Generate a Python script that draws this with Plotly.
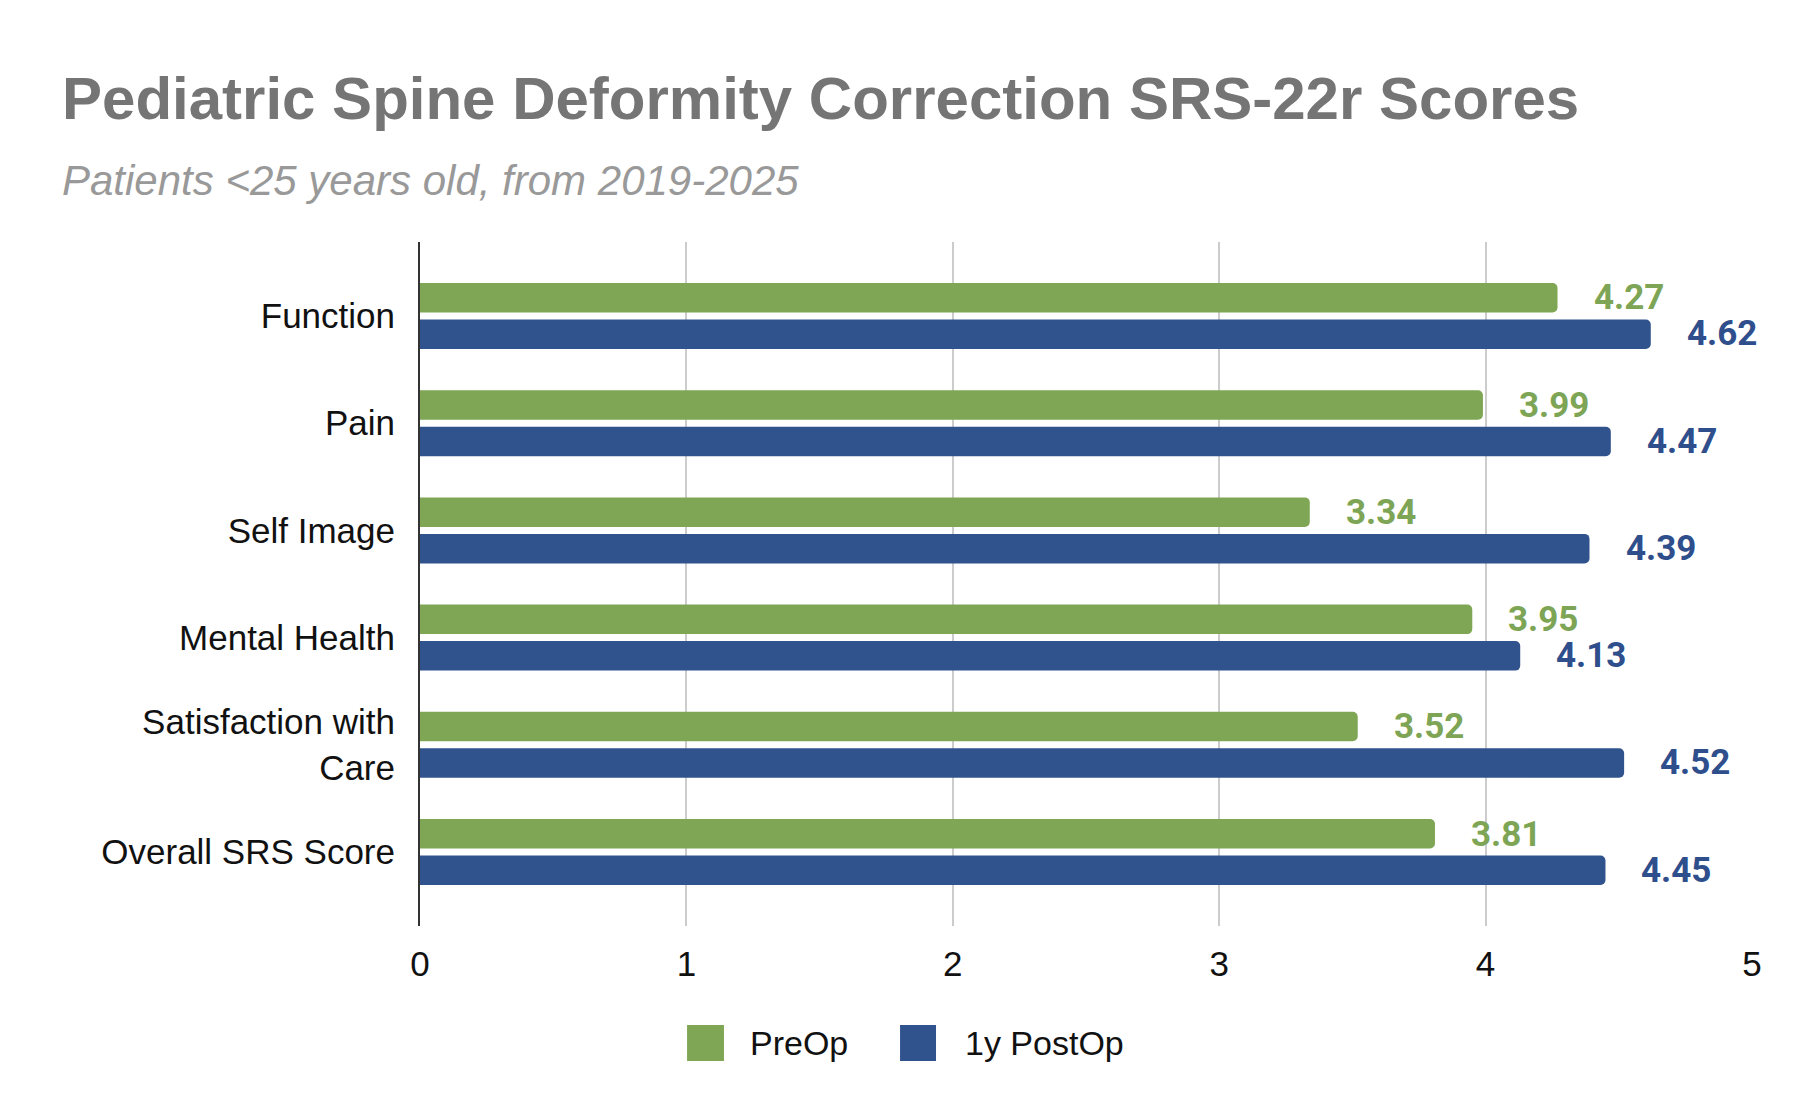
import plotly.graph_objects as go

categories = ["Function", "Pain", "Self Image", "Mental Health",
              "Satisfaction with<br>Care", "Overall SRS Score"]
preop = [4.27, 3.99, 3.34, 3.95, 3.52, 3.81]
postop = [4.62, 4.47, 4.39, 4.13, 4.52, 4.45]
series_names = ["PreOp", "1y PostOp"]
x_ticks = [0, 1, 2, 3, 4, 5]

GREEN = "#7FA654"
BLUE = "#30538D"
GREEN_TXT = "#7DA555"
BLUE_TXT = "#2E4E8C"

fig = go.Figure()
fig.add_trace(go.Bar(y=categories, x=preop, orientation="h", name=series_names[0],
                     marker=dict(color=GREEN, line=dict(width=0)), hoverinfo="skip"))
fig.add_trace(go.Bar(y=categories, x=postop, orientation="h", name=series_names[1],
                     marker=dict(color=BLUE, line=dict(width=0)), hoverinfo="skip"))

annotations = []
label_font = "Roboto"
for cat, v in zip(categories, preop):
    annotations.append(dict(x=v, y=cat, xref="x", yref="y", text=f"{v:.2f}",
                            showarrow=False, xanchor="left", yanchor="middle",
                            xshift=34, yshift=18,
                            font=dict(family=label_font, size=35, color=GREEN_TXT, weight="bold")))
for cat, v in zip(categories, postop):
    annotations.append(dict(x=v, y=cat, xref="x", yref="y", text=f"{v:.2f}",
                            showarrow=False, xanchor="left", yanchor="middle",
                            xshift=34, yshift=-18,
                            font=dict(family=label_font, size=35, color=BLUE_TXT, weight="bold")))

# subtitle
annotations.append(dict(text="Patients <25 years old, from 2019-2025", xref="paper", yref="paper",
                        x=-0.2700, y=1.090, xanchor="left", yanchor="middle", showarrow=False,
                        font=dict(family="Liberation Sans", size=42, color="#999999", style="italic")))

# manual legend
legend_items = [(series_names[0], GREEN, 0.2005, 0.2282, 0.2462),
                (series_names[1], BLUE, 0.3604, 0.3874, 0.4077)]
shapes = []
for name, col, x0, x1, xt in legend_items:
    shapes.append(dict(type="rect", xref="paper", yref="paper", x0=x0, x1=x1,
                       y0=-0.1974, y1=-0.1447, fillcolor=col, line=dict(width=0)))
    annotations.append(dict(text=name, xref="paper", yref="paper", x=xt, y=-0.1711,
                            xanchor="left", yanchor="middle", showarrow=False,
                            font=dict(family="Liberation Sans", size=34, color="#111111")))

fig.update_layout(
    width=1800, height=1112,
    margin=dict(l=412, r=56, t=234, b=194, autoexpand=False),
    paper_bgcolor="white", plot_bgcolor="white",
    barmode="group", bargap=0.319, bargroupgap=0.192, barcornerradius=5,
    showlegend=False,
    title=dict(text="<b>Pediatric Spine Deformity Correction SRS-22r Scores</b>",
               x=54 / 1800, xanchor="left", xref="container",
               y=1 - 90 / 1112, yanchor="middle", yref="container",
               font=dict(family="Liberation Sans", size=60, color="#757575")),
    xaxis=dict(range=[0, 5], tickvals=x_ticks, showgrid=True, gridcolor="#CCCCCC", gridwidth=2,
               zeroline=False, showline=False, ticks="", ticklabelstandoff=14,
               tickfont=dict(family="Liberation Sans", size=35, color="#111111")),
    yaxis=dict(type="category", range=[5.69, -0.69], showgrid=False, zeroline=False,
               showline=True, linecolor="#333333", linewidth=2, ticks="", ticklabelstandoff=16,
               tickfont=dict(family="Liberation Sans", size=35, color="#111111")),
    annotations=annotations, shapes=shapes,
)

fig.write_html("out.html")
